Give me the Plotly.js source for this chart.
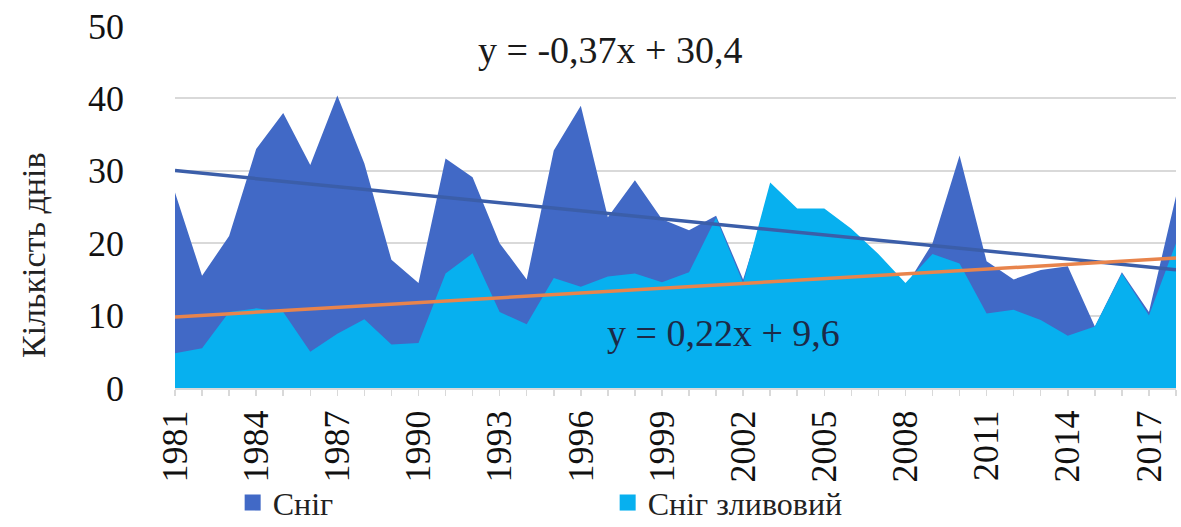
<!DOCTYPE html>
<html>
<head>
<meta charset="utf-8">
<script src="https://cdn.plot.ly/plotly-3.0.1.min.js"></script>
<style>
html,body{margin:0;padding:0;background:#fff;}
#chart{width:1181px;height:527px;}
</style>
</head>
<body>
<div id="chart"></div>
<script>
// Years 1981–2018
const years = [1981,1982,1983,1984,1985,1986,1987,1988,1989,1990,
               1991,1992,1993,1994,1995,1996,1997,1998,1999,2000,
               2001,2002,2003,2004,2005,2006,2007,2008,2009,2010,
               2011,2012,2013,2014,2015,2016,2017,2018];

// Сніг (days)
const snow = [27,15.5,21,33,38,30.8,40.4,31,17.7,14.5,
              31.7,29.1,20,15,32.8,39,23.6,28.7,23.3,21.8,
              23.8,15,27,24,24,21,18,14,20,32.1,
              17.5,15,16.3,16.8,8.5,16,10.5,26.5];

// Сніг зливовий (days)
const snowShower = [4.8,5.5,10.5,11,10.5,5,7.5,9.5,6,6.2,
                    15.8,18.6,10.5,8.8,15.2,14,15.4,15.8,14.6,16,
                    23.5,14.5,28.4,24.8,24.8,22,18.5,14.5,18.5,17.2,
                    10.3,10.8,9.4,7.2,8.5,15.8,10,20];

// Linear trend lines (values at first and last year)
const trendYears = [1981, 2018];
const snowTrend = [30.03, 16.34];
const showerTrend = [9.82, 17.96];

const xTickLabels = ['1981','1984','1987','1990','1993','1996','1999','2002','2005','2008','2011','2014','2017'];
const xTickVals = xTickLabels.map(Number);
const yTickVals = [0,10,20,30,40,50];

const seriesNames = ['Сніг', 'Сніг зливовий'];
const eqTexts = ['y = -0,37x + 30,4', 'y = 0,22x + 9,6'];
const yTitle = 'Кількість днів';

const cDark = '#4169c6';
const cLight = '#07b0ef';
const serif = 'Liberation Serif, Times New Roman, serif';

const traces = [
  {x: years, y: snow, type: 'scatter', mode: 'lines', fill: 'tozeroy',
   line: {width: 0, color: cDark}, fillcolor: cDark, showlegend: false, hoverinfo: 'skip'},
  {x: years, y: snowShower, type: 'scatter', mode: 'lines', fill: 'tozeroy',
   line: {width: 0, color: cLight}, fillcolor: cLight, showlegend: false, hoverinfo: 'skip'},
  {x: trendYears, y: snowTrend, type: 'scatter', mode: 'lines',
   line: {width: 3.5, color: '#3b5ea9'}, showlegend: false, hoverinfo: 'skip'},
  {x: trendYears, y: showerTrend, type: 'scatter', mode: 'lines',
   line: {width: 3.5, color: '#e8844c'}, showlegend: false, hoverinfo: 'skip'},
  {x: [null], y: [null], type: 'scatter', mode: 'markers', name: seriesNames[0],
   marker: {symbol: 'square', size: 16, color: cDark}},
  {x: [null], y: [null], type: 'scatter', mode: 'markers', name: seriesNames[1],
   marker: {symbol: 'square', size: 16, color: cLight}}
];

const layout = {
  width: 1181, height: 527,
  margin: {l: 175, r: 5, t: 26, b: 139, autoexpand: false},
  paper_bgcolor: '#fff', plot_bgcolor: '#fff',
  showlegend: true,
  legend: {orientation: 'h', xref: 'container', yref: 'container',
           x: 0.197, xanchor: 'left', y: 0.046, yanchor: 'middle',
           font: {family: serif, size: 32, color: '#222'},
           entrywidth: 330, entrywidthmode: 'pixels', bgcolor: 'rgba(0,0,0,0)'},
  xaxis: {
    range: [1981, 2018], tickmode: 'array', tickvals: xTickVals, ticktext: xTickLabels,
    tickangle: -90, tickfont: {family: serif, size: 36, color: '#111'},
    showgrid: false, zeroline: false, automargin: false,
    showline: true, linecolor: '#d9d9d9', linewidth: 2,
    ticks: 'outside', ticklen: 6, tickcolor: '#d9d9d9', tickwidth: 1.5,
    minor: {dtick: 1, tick0: 1981, ticks: 'outside', ticklen: 6, tickcolor: '#d9d9d9', tickwidth: 1.5, showgrid: false},
    fixedrange: true
  },
  yaxis: {
    range: [0, 50], tickmode: 'array', tickvals: yTickVals,
    tickfont: {family: serif, size: 36, color: '#111'},
    showgrid: true, gridcolor: '#d9d9d9', gridwidth: 2,
    zeroline: false, showline: false, ticks: '', automargin: false,
    ticklabelstandoff: 50,
    fixedrange: true
  },
  annotations: [
    {xref: 'paper', yref: 'paper', x: 0.435, y: 0.935, xanchor: 'center', yanchor: 'middle',
     text: eqTexts[0], showarrow: false, font: {family: serif, size: 38, color: '#1a1a1a'}},
    {xref: 'paper', yref: 'paper', x: 0.548, y: 0.153, xanchor: 'center', yanchor: 'middle',
     text: eqTexts[1], showarrow: false, font: {family: serif, size: 38, color: '#1c2a48'}},
    {xref: 'paper', yref: 'paper', x: -0.142, y: 0.367, xanchor: 'center', yanchor: 'middle',
     text: yTitle, textangle: -90, showarrow: false, font: {family: serif, size: 34, color: '#222'}}
  ]
};

Plotly.newPlot('chart', traces, layout, {displayModeBar: false, staticPlot: true});
</script>
</body>
</html>
